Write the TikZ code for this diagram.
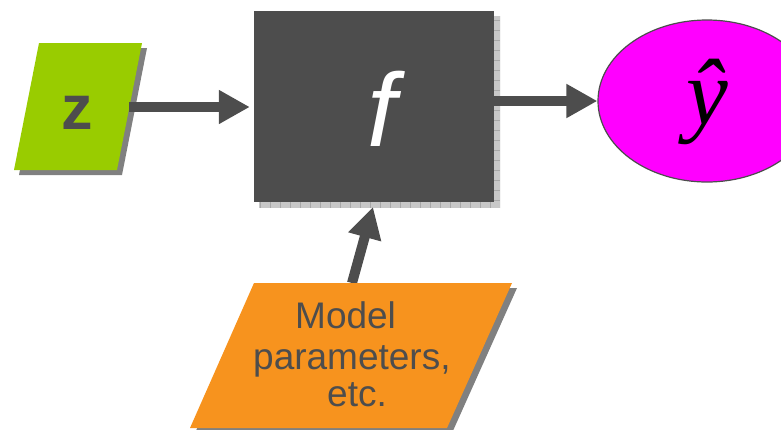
\documentclass[tikz,border=0pt]{standalone}
\usepackage{fontspec}
\setmainfont{Liberation Sans}
\newfontfamily\timesf{Liberation Serif}
\usetikzlibrary{arrows.meta,shapes.geometric}
\definecolor{dk}{HTML}{4D4D4D}
\definecolor{grn}{HTML}{99CC00}
\definecolor{org}{HTML}{F7931E}
\definecolor{mag}{HTML}{FF00FF}
\definecolor{shd}{HTML}{808080}
\definecolor{bshd}{HTML}{C8C8C8}
\definecolor{bgrid}{HTML}{A8A8A8}
\begin{document}
\begin{tikzpicture}[x=1pt,y=-1pt,
  arr/.style={draw=dk, line width=10pt, -{Triangle[length=31pt,width=32pt]}},
  shadowfill/.style={fill=shd},
  txt/.style={text=dk, inner sep=0pt}]
\useasboundingbox (0,0) rectangle (781,429);
\clip (0,0) rectangle (781,429);
% z input
\fill[shadowfill] (44,48) -- (147,48) -- (122,175) -- (19,175) -- cycle;
\fill[grn] (39,43) -- (142,43) -- (117,170) -- (14,170) -- cycle;
\node[txt, font=\fontsize{63}{63}\selectfont\bfseries] (z) at (77,113) {z};
\coordinate (zR) at (129,107);
% f box
\fill[bshd] (259,16) rectangle (500,208);
\begin{scope}
\clip (259,16) rectangle (500,208);
\draw[bgrid, line width=0.6pt, step=10pt] (259,16) grid (500,208);
\end{scope}
\node[fill=dk, minimum width=240pt, minimum height=191pt, inner sep=0pt] (f) at (374,106.5) {};
\node[text=white, inner sep=0pt, font=\fontsize{104}{104}\selectfont\itshape] (ft) at (382,108.5) {f};
% output ellipse
\node[ellipse, draw=dk, line width=1.2pt, fill=mag, minimum width=218pt, minimum height=162pt, inner sep=0pt] (y) at (707,101) {};
\node[inner sep=0pt, anchor=base, font=\timesf\itshape\fontsize{94}{94}\selectfont] (yt) at (707,124) {ŷ};
% model parameters
\coordinate (pT) at (352,283);
\coordinate (fB) at (373,207);
\draw[arr] (pT) -- (fB);
\fill[shadowfill] (259,288) -- (517,288) -- (452,433) -- (195,433) -- cycle;
\fill[org] (254,283) -- (512,283) -- (447,428) -- (190,428) -- cycle;
\node[txt, align=left, anchor=north west, font=\fontsize{37}{36}\selectfont] (mp) at (253,301)
  {\hspace*{42pt}Model\\[5pt]parameters,\\[1pt]\hspace*{74pt}etc.};
% connectors
\draw[arr, shorten >=4pt] (zR) -- (f.west |- zR);
\draw[arr] (f.east |- y.west) -- (y.west);
\end{tikzpicture}
\end{document}
